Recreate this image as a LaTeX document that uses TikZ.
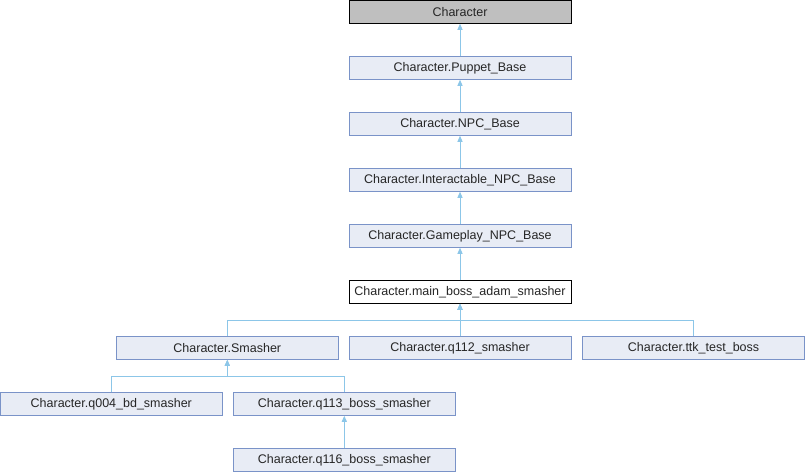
\documentclass[tikz,border=0pt]{standalone}
\usepackage{fontspec}
\setmainfont{Liberation Sans}
\usetikzlibrary{arrows.meta}
\definecolor{boxfill}{HTML}{E8ECF5}
\definecolor{boxline}{HTML}{7A93C8}
\definecolor{edgecol}{HTML}{8CC6E8}
\definecolor{topfill}{HTML}{BFBFBF}
\begin{document}
\begin{tikzpicture}[x=1pt,y=-1pt,
  cls/.style={draw=boxline,fill=boxfill,line width=1pt,minimum width=222pt,minimum height=22.5pt,inner sep=0pt,font=\fontsize{12.5}{14}\selectfont,text=black!85},
  topcls/.style={cls,draw=black,fill=topfill},
  curcls/.style={cls,draw=black,fill=white},
  edge/.style={draw=edgecol,line width=1pt,-{Triangle[width=5pt,length=6pt]}}]
\useasboundingbox (0,0) rectangle (805,472);
\node[topcls] (c)   at (460,12)  {Character};
\node[cls]    (pb)  at (460,68)  {Character.Puppet\_Base};
\node[cls]    (npc) at (460,124) {Character.NPC\_Base};
\node[cls]    (inpc) at (460,180) {Character.Interactable\_NPC\_Base};
\node[cls]    (gnpc) at (460,236) {Character.Gameplay\_NPC\_Base};
\node[curcls] (main) at (460,292) {Character.main\_boss\_adam\_smasher};
\node[cls]    (sm)  at (227.3,348) {Character.Smasher};
\node[cls]    (q112) at (460,348) {Character.q112\_smasher};
\node[cls]    (ttk) at (693.5,348) {Character.ttk\_test\_boss};
\node[cls]    (q004) at (111.3,404) {Character.q004\_bd\_smasher};
\node[cls]    (q113) at (344.3,404) {Character.q113\_boss\_smasher};
\node[cls]    (q116) at (344.3,460) {Character.q116\_boss\_smasher};
\draw[edge] (pb.north) -- (c.south);
\draw[edge] (npc.north) -- (pb.south);
\draw[edge] (inpc.north) -- (npc.south);
\draw[edge] (gnpc.north) -- (inpc.south);
\draw[edge] (main.north) -- (gnpc.south);
\draw[edge] (q112.north) -- (main.south);
\draw[edge] (sm.north) -- (sm.north |- 0,320.3) -| (main.south);
\draw[edge] (ttk.north) -- (ttk.north |- 0,320.3) -| (main.south);
\draw[edge] (q004.north) -- (q004.north |- 0,376) -| (sm.south);
\draw[edge] (q113.north) -- (q113.north |- 0,376) -| (sm.south);
\draw[edge] (q116.north) -- (q113.south);
\end{tikzpicture}
\end{document}
